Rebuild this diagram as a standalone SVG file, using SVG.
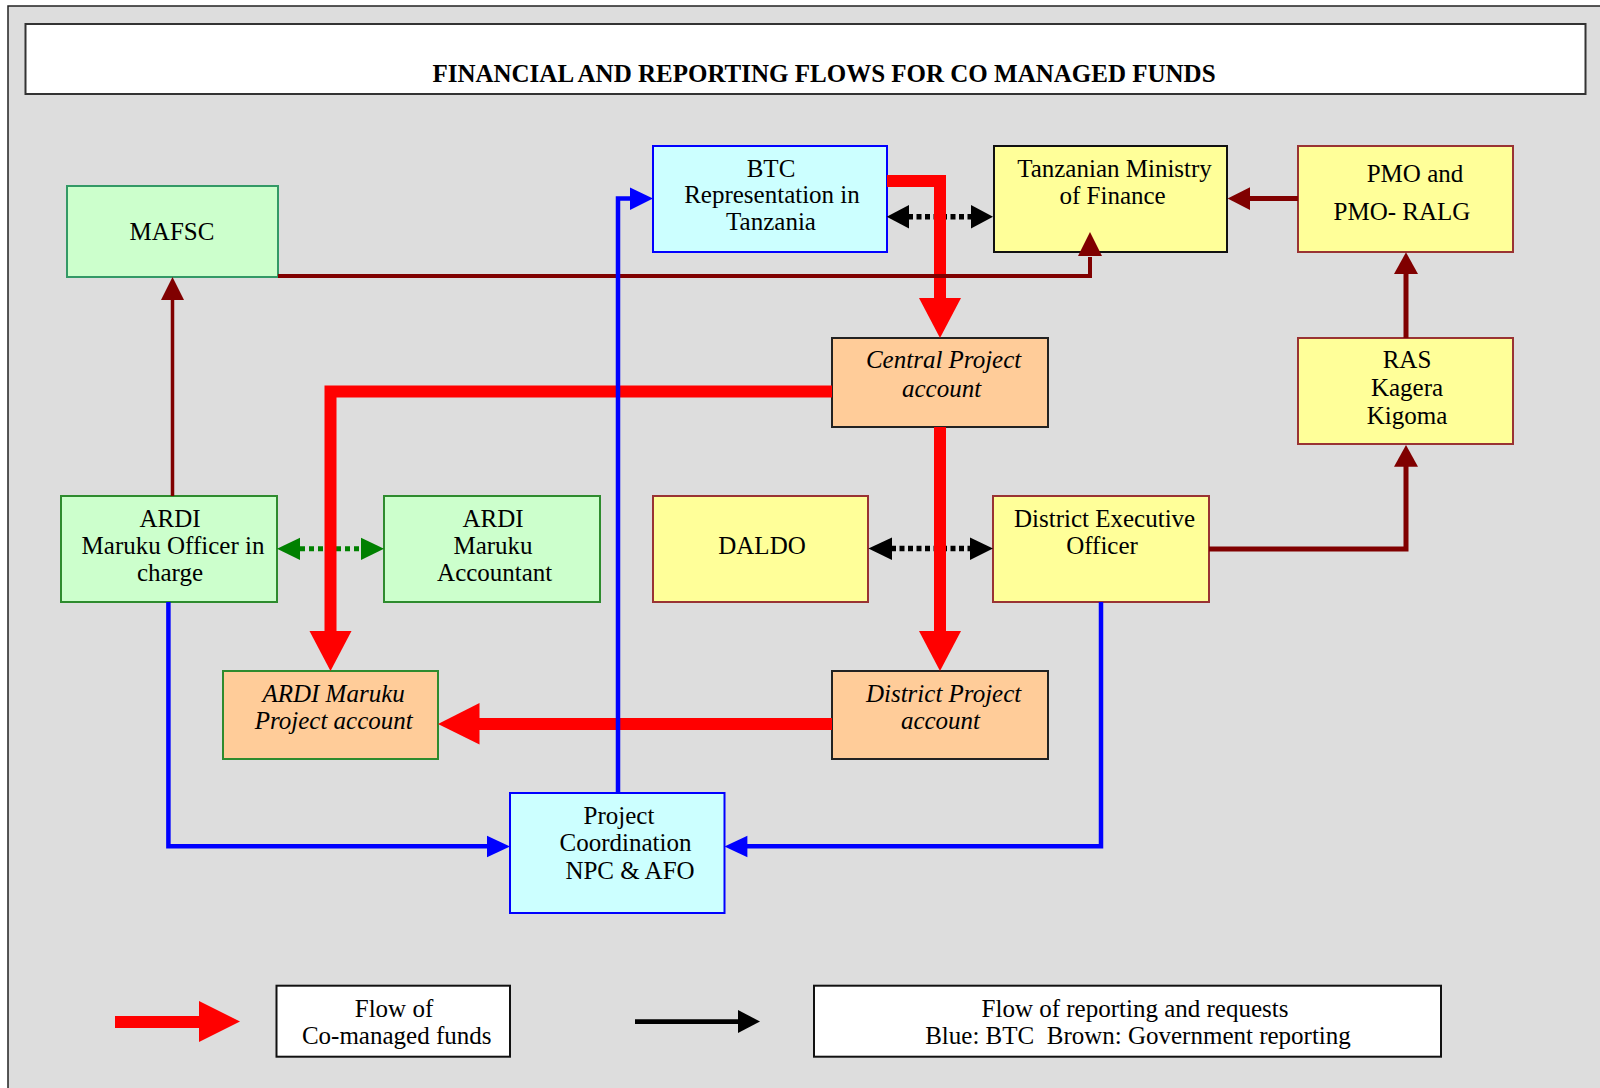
<svg xmlns="http://www.w3.org/2000/svg" width="1600" height="1088" viewBox="0 0 1600 1088">
<style>
text{font-family:"Liberation Serif","Times New Roman",serif;font-size:25px;fill:#000;text-anchor:middle}
.it{font-style:italic}
.title{font-weight:bold;font-size:25px}
.green{fill:#CCFFCC;stroke:#339966;stroke-width:2}
.greenb{fill:#CCFFCC;stroke:#2E8B2E;stroke-width:2}
.cyan{fill:#CCFFFF;stroke:#0000FF;stroke-width:2}
.yel{fill:#FFFF99;stroke:#993333;stroke-width:2}
.yelk{fill:#FFFF99;stroke:#111;stroke-width:2}
.org{fill:#FFCC99;stroke:#222;stroke-width:2}
.orgg{fill:#FFCC99;stroke:#2E8B2E;stroke-width:2}
.leg{fill:#FFFFFF;stroke:#111;stroke-width:2}
.red{fill:none;stroke:#FF0000;stroke-width:12;stroke-linejoin:miter}
.redh{fill:#FF0000}
.blue{fill:none;stroke:#0000FF;stroke-width:4.5}
.blueh{fill:#0000FF}
.brown{fill:none;stroke:#800000;stroke-width:5}
.brownh{fill:#800000}
.dotk{stroke:#000;stroke-width:5.5;stroke-dasharray:5 3.5}
.dotg{stroke:#008000;stroke-width:5;stroke-dasharray:5 4}
.kh{fill:#000}
.gh{fill:#008000}
</style>
<rect x="8" y="6" width="1600" height="1090" fill="#DDDDDD" stroke="#222" stroke-width="1.5"/>
<g id="title">
<rect x="25.5" y="24" width="1560" height="70" fill="#FFFFFF" stroke="#333" stroke-width="2"/>
<text class="title" x="824" y="82">FINANCIAL AND REPORTING FLOWS FOR CO MANAGED FUNDS</text>
</g>
<g id="mafsc"><rect class="green" x="67" y="186" width="211" height="91"/><text x="172" y="240">MAFSC</text></g>
<g id="btc"><rect class="cyan" x="653" y="146" width="234" height="106"/><text x="771" y="177">BTC</text><text x="772" y="203">Representation in</text><text x="771" y="230">Tanzania</text></g>
<g id="ministry"><rect class="yelk" x="994" y="146" width="233" height="106"/><text x="1114.5" y="176.7">Tanzanian Ministry</text><text x="1112.6" y="204">of Finance</text></g>
<g id="pmo"><rect class="yel" x="1298" y="146" width="215" height="106"/><text x="1415" y="181.7">PMO and</text><text x="1402" y="220">PMO- RALG</text></g>
<g id="central"><rect class="org" x="832" y="338" width="216" height="89"/><text class="it" x="943.6" y="368.3">Central Project</text><text class="it" x="941.6" y="396.7">account</text></g>
<g id="ras"><rect class="yel" x="1298" y="338" width="215" height="106"/><text x="1407" y="368">RAS</text><text x="1407" y="396">Kagera</text><text x="1407" y="424">Kigoma</text></g>
<g id="ardi-officer"><rect class="greenb" x="61" y="496" width="216" height="106"/><text x="170" y="526.7">ARDI</text><text x="173" y="554">Maruku Officer in</text><text x="170" y="581">charge</text></g>
<g id="ardi-accountant"><rect class="greenb" x="384" y="496" width="216" height="106"/><text x="493" y="526.7">ARDI</text><text x="493" y="554">Maruku</text><text x="494.7" y="581">Accountant</text></g>
<g id="daldo"><rect class="yel" x="653" y="496" width="215" height="106"/><text x="762" y="554">DALDO</text></g>
<g id="deo"><rect class="yel" x="993" y="496" width="216" height="106"/><text x="1104.6" y="526.7">District Executive</text><text x="1102" y="554">Officer</text></g>
<g id="ardi-account"><rect class="orgg" x="223" y="671" width="215" height="88"/><text class="it" x="333.6" y="701.7">ARDI Maruku</text><text class="it" x="333.7" y="729.3">Project account</text></g>
<g id="district-account"><rect class="org" x="832" y="671" width="216" height="88"/><text class="it" x="943.6" y="701.7">District Project</text><text class="it" x="940.5" y="729.3">account</text></g>
<g id="coordination"><rect class="cyan" x="510" y="793" width="214.5" height="120"/><text x="619" y="824">Project</text><text x="625.5" y="851">Coordination</text><text x="630" y="879">NPC &amp; AFO</text></g>
<g id="legend-funds"><rect class="leg" x="276.5" y="985.7" width="233.5" height="71"/><text x="394" y="1016.7">Flow of</text><text x="396.7" y="1044">Co-managed funds</text></g>
<g id="legend-reporting"><rect class="leg" x="814" y="985.7" width="627" height="71"/><text x="1135" y="1016.7">Flow of reporting and requests</text><text x="1138" y="1044" style="white-space:pre">Blue: BTC  Brown: Government reporting</text></g>
<g id="connectors">
<line class="dotk" x1="908" y1="216.7" x2="971" y2="216.7"/>
<polygon class="kh" points="886.7,216.7 909,205 909,228.4"/>
<polygon class="kh" points="993,216.7 971,205 971,228.4"/>
<line class="dotk" x1="891" y1="548.5" x2="970" y2="548.5"/>
<polygon class="kh" points="868.4,548.5 892,537.5 892,560"/>
<polygon class="kh" points="993,548.5 970,537.5 970,560"/>
<line class="dotg" x1="300" y1="548.7" x2="361" y2="548.7"/>
<polygon class="gh" points="277,548.7 300,537.7 300,560"/>
<polygon class="gh" points="384,548.7 361,537.7 361,560"/>
<path class="red" d="M887 181 H940 V300"/>
<polygon class="redh" points="919,298 961,298 940,338"/>
<path class="red" d="M832 391.5 H330.5 V632"/>
<polygon class="redh" points="309.5,631 351.5,631 330.5,671"/>
<path class="red" d="M940 427 V632"/>
<polygon class="redh" points="919,631 961,631 940,671"/>
<path class="red" d="M832 724 H478"/>
<polygon class="redh" points="479.5,703 479.5,744.5 438,724"/>
<path class="brown" style="stroke-width:4" d="M278 276 H1090 V257"/>
<polygon class="brownh" points="1078,256 1102,256 1090,232"/>
<path class="brown" style="stroke-width:3.5" d="M172.5 496 V299"/>
<polygon class="brownh" points="161,300 184,300 172.5,277"/>
<path class="brown" d="M1298 198.5 H1249"/>
<polygon class="brownh" points="1250,187.3 1250,210 1227.6,198.5"/>
<path class="brown" d="M1406 338 V273"/>
<polygon class="brownh" points="1394,274 1418,274 1406,252.3"/>
<path class="brown" d="M1209 549 H1406 V466"/>
<polygon class="brownh" points="1394,466.7 1418,466.7 1406,445"/>
<path class="blue" d="M618 793 V198.5 H632"/>
<polygon class="blueh" points="630,187.5 630,210 653,198.5"/>
<path class="blue" d="M168.4 602 V846.3 H489"/>
<polygon class="blueh" points="487,835.7 487,857.3 510,846.5"/>
<path class="blue" d="M1101 602 V846.3 H746"/>
<polygon class="blueh" points="747.4,835.7 747.4,857.3 724.5,846.5"/>
</g>
<g id="legend-arrows">
<path class="red" d="M115 1022 H200"/>
<polygon class="redh" points="199,1001 199,1042 240,1021.5"/>
<line x1="635" y1="1021.7" x2="739" y2="1021.7" stroke="#000" stroke-width="4.7"/>
<polygon class="kh" points="738,1010 738,1033 760,1021.5"/>
</g>
</svg>
